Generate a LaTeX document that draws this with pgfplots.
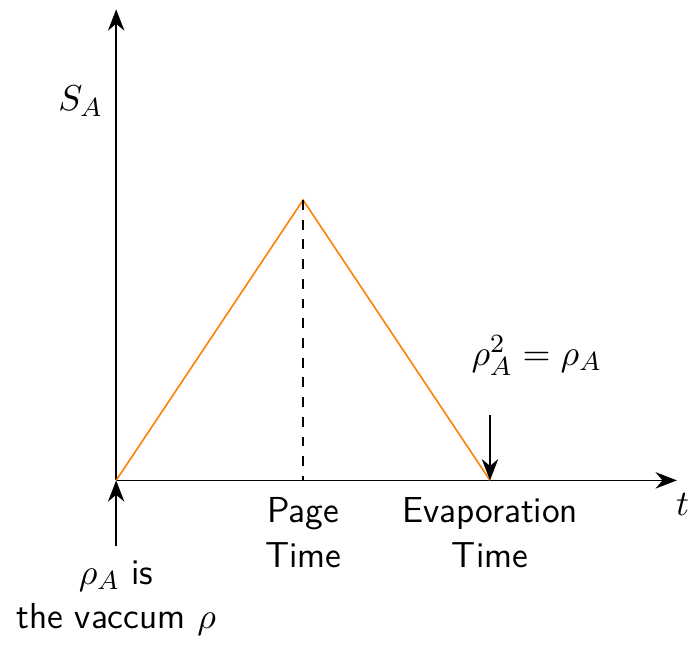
\documentclass[border=0pt]{standalone}
\usepackage{pgfplots}
\pgfplotsset{compat=1.18}
\usetikzlibrary{arrows.meta}
\begin{document}
\begin{tikzpicture}[font={\fontsize{11}{13.6}\selectfont\sffamily}]
\begin{axis}[
  x=2cm, y=2cm,
  xmin=0, xmax=3.0, ymin=0, ymax=2.52,
  axis lines=middle,
  axis line style={-{Stealth[length=6.5pt,width=5pt]}, line width=0.5pt},
  xtick=\empty, ytick=\empty,
  clip=false,
]
\addplot[orange, line width=0.5pt] coordinates {(0,0) (1,1.5) (2,0)};
\addplot[black, dashed, line width=0.5pt] coordinates {(1,1.5) (1,0)};
\addplot[black, line width=0.5pt, -{Stealth[length=6.5pt,width=5pt]}] coordinates {(2,0.35) (2,0)};
\addplot[black, line width=0.5pt, -{Stealth[length=6.5pt,width=5pt]}] coordinates {(0,-0.35) (0,0)};
\path (axis cs:0,2.57);
\node at (axis cs:-0.19,2.03) {$S_A$};
\node[inner sep=0pt] at (axis cs:3.03,-0.13) {$t$};
\node[align=center] at (axis cs:1,-0.28) {Page\\Time};
\node[align=center] at (axis cs:2,-0.28) {Evaporation\\Time};
\node at (axis cs:2.25,0.67) {$\rho_A^2=\rho_A$};
\node[align=center, inner xsep=5pt] at (axis cs:0,-0.63) {$\rho_A$ is\\the vaccum $\rho$};
\end{axis}
\end{tikzpicture}
\end{document}
